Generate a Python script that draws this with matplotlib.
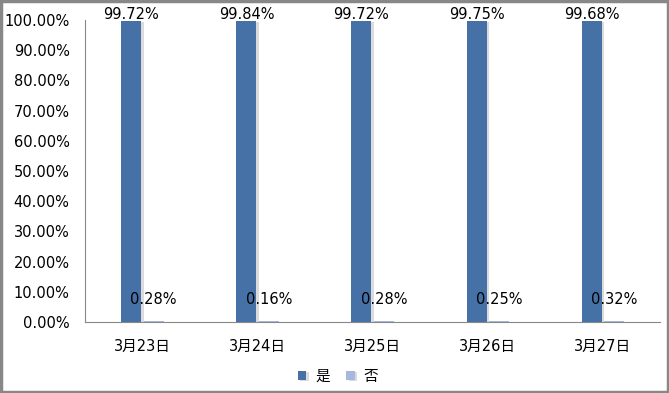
import numpy as np
import matplotlib.pyplot as plt
import matplotlib.patheffects as pe
from matplotlib.ticker import FuncFormatter

plt.rcParams['font.family'] = ['DejaVu Sans', 'Noto Sans CJK SC']

dates = ["3月23日", "3月24日", "3月25日", "3月26日", "3月27日"]
yes_vals = [99.72, 99.84, 99.72, 99.75, 99.68]
no_vals = [0.28, 0.16, 0.28, 0.25, 0.32]

fig = plt.figure(figsize=(6.69, 3.93), dpi=100)
ax = fig.add_axes([0.127, 0.181, 0.86, 0.768])

x = np.arange(len(dates))
w = 0.174
shadow = [pe.SimplePatchShadow(offset=(2, -1), shadow_rgbFace='#999999', alpha=0.35), pe.Normal()]
b1 = ax.bar(x - w / 2 - 0.01, yes_vals, w, color='#4571A7', label='是', path_effects=shadow)
b2 = ax.bar(x + w / 2 + 0.01, no_vals, w, color='#A6B9DC', label='否', path_effects=shadow)

for xi, v in zip(x, yes_vals):
    ax.annotate(f"{v:.2f}%", (xi - w / 2 - 0.01, v), xytext=(0, -1), textcoords='offset points',
                ha='center', va='bottom', fontsize=10.5)
for xi, v in zip(x, no_vals):
    ax.annotate(f"{v:.2f}%", (xi + w / 2 + 0.01, v), xytext=(0, 10), textcoords='offset points',
                ha='center', va='bottom', fontsize=10.5)

ax.set_xlim(-0.5, len(dates) - 0.5)
ax.set_ylim(0, 100)
ax.set_yticks(np.arange(0, 101, 10))
ax.yaxis.set_major_formatter(FuncFormatter(lambda v, p: f"{v:.2f}%"))
ax.set_xticks(x)
ax.set_xticklabels(dates)
ax.tick_params(axis='both', length=0, labelsize=10.5)
ax.tick_params(axis='x', pad=12)
ax.tick_params(axis='y', pad=11)
for s in ['top', 'right']:
    ax.spines[s].set_visible(False)
for s in ['left', 'bottom']:
    ax.spines[s].set_color('#888888')

fig.legend(handles=[b1, b2], loc='center', bbox_to_anchor=(0.505, 0.043), ncol=2, frameon=False,
           fontsize=10.5, handlelength=0.6, handleheight=0.6, handletextpad=0.6, columnspacing=1.1)

fig.patches.append(plt.Rectangle((0.002, 0.003), 0.996, 0.994, transform=fig.transFigure,
                                 fill=False, edgecolor='#888888', linewidth=2.5))

fig.savefig("out.png", dpi=100)
